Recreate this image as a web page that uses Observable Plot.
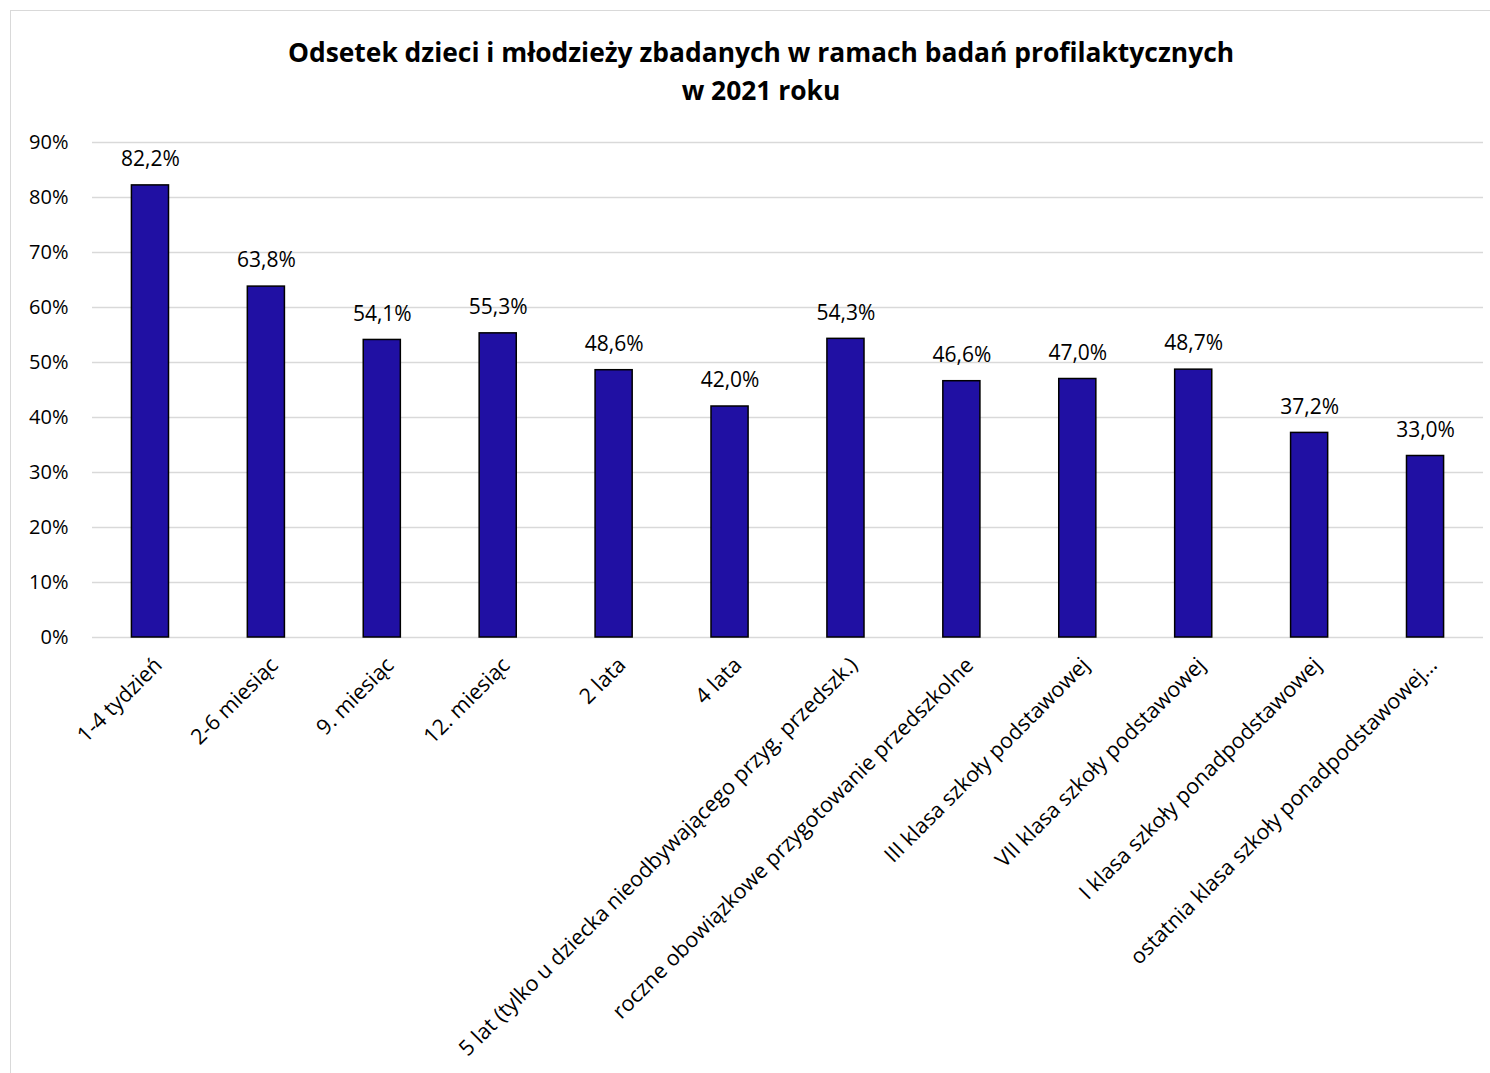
<!DOCTYPE html>
<html>
<head>
<meta charset="utf-8">
<script src="https://cdn.jsdelivr.net/npm/d3@7"></script>
<script src="https://cdn.jsdelivr.net/npm/@observablehq/plot@0.6"></script>
<style>
  html, body { margin: 0; padding: 0; background: #fff; }
  body { width: 1490px; height: 1073px; overflow: hidden; position: relative; font-family: "Open Sans", sans-serif; }
  #frame { position: absolute; left: 10px; top: 10px; width: 1500px; height: 1100px; border: 1px solid #d9d9d9; box-sizing: border-box; }
  #title { position: absolute; left: 16px; top: 0; width: 1490px; height: 120px; text-align: center; font-weight: bold; font-size: 26.4px; line-height: 38px; padding-top: 33px; box-sizing: border-box; color: #000; white-space: nowrap; }
  #chart { position: absolute; left: 0; top: 120px; }
</style>
</head>
<body>
<div id="frame"></div>
<div id="title">Odsetek dzieci i młodzieży zbadanych w ramach badań profilaktycznych<br>w 2021 roku</div>
<div id="chart"></div>
<script>
const categories = [
  "1-4 tydzień",
  "2-6 miesiąc",
  "9. miesiąc",
  "12. miesiąc",
  "2 lata",
  "4 lata",
  "5 lat (tylko u dziecka nieodbywającego przyg. przedszk.)",
  "roczne obowiązkowe przygotowanie przedszkolne",
  "III klasa szkoły podstawowej",
  "VII klasa szkoły podstawowej",
  "I klasa szkoły ponadpodstawowej",
  "ostatnia klasa szkoły ponadpodstawowej…"
];
const values = [82.2, 63.8, 54.1, 55.3, 48.6, 42.0, 54.3, 46.6, 47.0, 48.7, 37.2, 33.0];
const yTicks = [0, 10, 20, 30, 40, 50, 60, 70, 80, 90];

const data = categories.map((c, i) => ({category: c, value: values[i]}));
const fmt = v => v.toFixed(1).replace(".", ",") + "%";

const chart = Plot.plot({
  width: 1490,
  height: 953,
  marginLeft: 92,
  marginRight: 7,
  marginTop: 22,
  marginBottom: 436,
  style: {fontFamily: "'Open Sans', sans-serif", fontSize: "20px", color: "#000", background: "transparent"},
  x: {domain: categories, paddingInner: 0.68, paddingOuter: 0.34, round: false, label: null},
  y: {domain: [0, 90], label: null},
  marks: [
    Plot.gridY(yTicks, {stroke: "#d9d9d9", strokeOpacity: 1, strokeWidth: 1.5}),
    Plot.axisY(yTicks, {tickSize: 0, tickPadding: 24, tickFormat: d => d + "%", fontSize: 20, label: null}),
    Plot.axisX({tickSize: 0, tickPadding: 24, dx: 8, tickRotate: -45, fontSize: 21.5, label: null}),
    Plot.barY(data, {x: "category", y: "value", fill: "#2010a3", stroke: "#000", strokeWidth: 1.5}),
    Plot.text(data, {x: "category", y: "value", text: d => fmt(d.value), dy: -26, fontSize: 21, fill: "#000"})
  ]
});
document.getElementById("chart").appendChild(chart);
</script>
</body>
</html>
